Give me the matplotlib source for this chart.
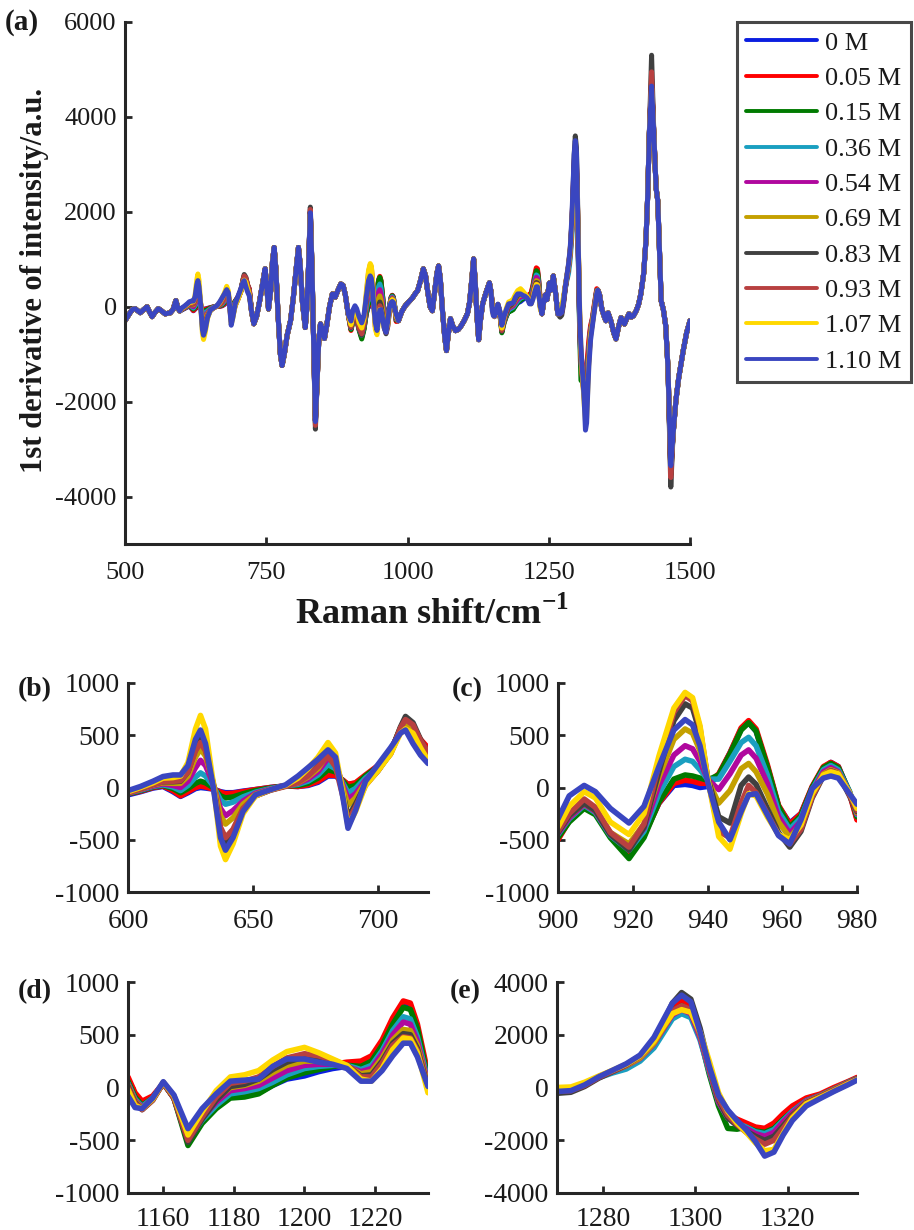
import numpy as np
import matplotlib.pyplot as plt

plt.rcParams['font.family'] = 'Liberation Serif'
plt.rcParams['mathtext.fontset'] = 'custom'
plt.rcParams['mathtext.rm'] = 'Liberation Serif'
plt.rcParams['mathtext.bf'] = 'Liberation Serif:bold'
plt.rcParams['axes.unicode_minus'] = False

concentrations = ['0 M', '0.05 M', '0.15 M', '0.36 M', '0.54 M',
                  '0.69 M', '0.83 M', '0.93 M', '1.07 M', '1.10 M']
colors = ['#0a1ee0', '#ff0000', '#007a00', '#1a9fc0', '#b0089e',
          '#c4a000', '#404040', '#b84040', '#ffd800', '#3a46c0']

# (a) common spectrum outside the zoomed windows, (shift, value)
a_base = [(500, -295), (505, -200), (509, -126), (513, -60), (518, -40), (522, -80),
          (527, -126), (533, -60), (539, 0), (543, -100), (548, -210), (553, -120),
          (559, -40), (565, -90), (571, -150), (576, -140), (580, -130), (585, -60),
          (590, 130), (594, -40), (597, -90),
          (724, -100), (728, -360), (733, -200), (738, 100), (743, 450), (748, 800),
          (751, 400), (754, -50), (758, 350), (761, 950), (764, 1250), (767, 800),
          (771, -200), (775, -1000), (778, -1240), (782, -1000), (787, -600), (793, -295),
          (798, 200), (803, 800), (807, 1250), (810, 900), (814, 100), (819, -440),
          (822, 0), (825, 900), (831, 800), (834, -800), (840, -1600), (843, -700),
          (846, -360), (850, -500), (853, -670), (857, -400), (862, 0), (867, 270),
          (872, 200), (877, 350), (882, 480), (886, 450), (890, 250), (895, -150),
          (984, -295), (990, -100), (996, 20), (1002, 100), (1009, 190), (1014, 280),
          (1018, 340), (1023, 550), (1028, 800), (1032, 650), (1036, 300), (1040, 0),
          (1044, -85), (1048, 300), (1052, 700), (1055, 860), (1058, 600), (1062, -100),
          (1066, -650), (1069, -925), (1072, -600), (1076, -250), (1080, -400), (1085, -505),
          (1090, -480), (1094, -420), (1100, -300), (1106, -150), (1110, 100), (1114, 600),
          (1117, 1010), (1120, 500), (1123, -200), (1126, -695), (1129, -300), (1133, 60),
          (1139, 300), (1145, 505), (1148, 300),
          (1238, -150), (1241, 100), (1244, 250), (1247, 150), (1251, 500), (1254, 350),
          (1258, 650), (1262, 300), (1266, -150),
          (1337, 350), (1340, 250), (1344, -50), (1348, -200), (1351, -295), (1355, -130),
          (1360, -300), (1365, -550), (1369, -680), (1374, -400), (1378, -230), (1384, -365),
          (1388, -250), (1392, -150), (1396, -220), (1400, -190), (1405, -80), (1409, 50),
          (1413, 270), (1418, 700), (1422, 1390), (1425, 2300), (1428, 3640), (1436, 3640),
          (1440, 2500), (1443, 2230), (1446, 1200), (1449, 125), (1453, -70), (1457, -400),
          (1461, -1280), (1470, -2700), (1475, -1980), (1480, -1500), (1488, -925),
          (1494, -550), (1500, -295)]

# strong bands in (a) that differ between concentrations
a_peak_x = [828, 837, 1432, 1466]
a_peak_y = [[2000, -2400, 4700, -3450],
            [2000, -2400, 4800, -3450],
            [2000, -2450, 4750, -3550],
            [1990, -2400, 4700, -3450],
            [1990, -2400, 4700, -3450],
            [2000, -2400, 4750, -3500],
            [2100, -2580, 5300, -3800],
            [2050, -2500, 4950, -3600],
            [1950, -2350, 4600, -3300],
            [1980, -2420, 4650, -3350]]

b_shift = [600, 605, 610, 614, 618, 621, 624, 627, 629, 631, 634, 637, 639, 642, 646, 651, 657,
           663, 668, 672, 676, 680, 683, 686, 688, 691, 695, 700, 705, 709, 711, 714, 717, 720]
b_deriv = [
    [-70, -40, -5, 10, -40, -85, -50, -10, 0, -5, -15, -40, -50, -50, -35, -20, 0,
     15, 10, 20, 50, 110, 110, 60, 30, 40, 110, 190, 330, 540, 620, 560, 440, 370],
    [-60, -35, 0, 15, -30, -80, -40, 0, 15, 5, -15, -45, -60, -55, -40, -20, 0,
     15, 10, 25, 60, 120, 115, 70, 30, 45, 120, 210, 350, 560, 630, 580, 460, 380],
    [-60, -30, 5, 20, -10, -50, -10, 40, 60, 45, 0, -80, -100, -90, -60, -30, -5,
     15, 20, 40, 90, 170, 150, 60, 0, 20, 110, 200, 340, 570, 650, 590, 440, 340],
    [-55, -25, 10, 25, 5, -30, 20, 100, 140, 110, 20, -120, -160, -140, -90, -45, -10,
     15, 30, 60, 120, 220, 180, 40, -50, -10, 90, 190, 330, 540, 610, 560, 420, 320],
    [-55, -20, 15, 35, 20, 0, 60, 190, 260, 210, 40, -200, -270, -220, -130, -55, -15,
     15, 40, 80, 150, 280, 230, 20, -110, -60, 70, 180, 320, 540, 610, 560, 420, 310],
    [-50, -15, 25, 45, 40, 40, 110, 290, 370, 300, 60, -270, -350, -290, -160, -65, -20,
     15, 45, 100, 180, 320, 250, -10, -170, -100, 50, 170, 320, 550, 620, 570, 430, 310],
    [-45, -10, 30, 55, 55, 60, 150, 370, 460, 370, 40, -420, -530, -420, -210, -80, -25,
     15, 55, 120, 210, 330, 240, -60, -280, -160, 30, 160, 330, 580, 680, 620, 460, 330],
    [-50, -10, 30, 55, 60, 65, 150, 350, 430, 350, 40, -380, -480, -400, -200, -80, -25,
     10, 50, 110, 200, 300, 200, -90, -320, -190, 20, 160, 330, 570, 650, 600, 450, 340],
    [-40, 0, 45, 90, 95, 110, 240, 560, 690, 560, 60, -560, -690, -540, -250, -80, -20,
     20, 90, 180, 290, 430, 330, -60, -370, -230, 20, 160, 320, 520, 560, 520, 380, 260],
    [-30, 10, 60, 105, 120, 120, 210, 460, 550, 420, 20, -480, -600, -480, -230, -70, -20,
     25, 110, 190, 270, 360, 290, -100, -390, -220, 60, 220, 380, 520, 550, 420, 310, 230]]

c_shift = [900, 903, 907, 910, 914, 919, 923, 927, 931, 934, 936, 938, 940, 943,
           946, 949, 951, 953, 956, 959, 962, 965, 968, 971, 973, 975, 978, 980]
c_deriv = [
    [-470, -300, -180, -230, -450, -640, -450, -150, 20, 30, 20, 0, 10, 120,
     330, 560, 620, 540, 200, -180, -340, -250, 0, 190, 240, 200, -50, -300],
    [-500, -320, -190, -240, -460, -650, -460, -150, 40, 70, 60, 40, 40, 130,
     330, 570, 640, 560, 220, -170, -350, -250, 10, 200, 240, 200, -60, -310],
    [-480, -330, -200, -260, -480, -680, -480, -140, 80, 120, 110, 90, 70, 120,
     320, 550, 620, 540, 200, -180, -380, -270, 0, 190, 230, 190, -40, -280],
    [-450, -300, -170, -240, -460, -600, -420, -60, 200, 270, 250, 170, 80, 80,
     250, 430, 480, 400, 120, -230, -400, -290, -20, 170, 210, 170, -40, -260],
    [-440, -290, -160, -230, -450, -580, -390, 20, 310, 400, 370, 250, 80, -20,
     130, 310, 360, 280, 40, -280, -440, -320, -40, 150, 190, 150, -50, -250],
    [-420, -270, -150, -220, -430, -540, -350, 100, 460, 560, 520, 350, 80, -150,
     -30, 180, 230, 150, -60, -330, -480, -350, -70, 130, 170, 140, -60, -240],
    [-430, -270, -150, -220, -450, -600, -380, 150, 640, 800, 760, 520, 100, -280,
     -340, 20, 100, 30, -200, -430, -570, -420, -100, 110, 160, 130, -80, -230],
    [-420, -250, -110, -190, -430, -570, -350, 220, 720, 880, 830, 570, 100, -420,
     -480, -150, 20, -50, -250, -450, -540, -400, -90, 120, 160, 130, -70, -220],
    [-380, -180, -40, -100, -330, -450, -250, 300, 760, 910, 860, 590, 100, -470,
     -590, -250, -60, -80, -280, -450, -500, -360, -60, 120, 150, 130, -50, -200],
    [-300, -80, 20, -40, -200, -340, -180, 200, 550, 650, 600, 400, 60, -330,
     -500, -230, -70, -60, -260, -460, -540, -310, -10, 90, 110, 90, -60, -160]]

d_shift = [1150, 1152, 1154, 1157, 1160, 1163, 1167, 1171, 1175, 1179, 1183, 1187, 1191,
           1195, 1200, 1204, 1208, 1212, 1216, 1219, 1222, 1225, 1228, 1230, 1232, 1235]
d_deriv = [
    [50, -100, -180, -100, 40, -80, -470, -300, -180, -90, -80, -50, 20,
     80, 110, 150, 180, 200, 220, 280, 420, 620, 780, 760, 560, 100],
    [100, -50, -130, -80, 40, -100, -490, -320, -190, -80, -60, -30, 40,
     100, 150, 190, 220, 240, 250, 300, 450, 660, 820, 800, 600, 130],
    [60, -90, -170, -100, 40, -100, -550, -340, -200, -100, -90, -60, 20,
     90, 140, 170, 200, 210, 200, 250, 400, 600, 760, 740, 560, 80],
    [40, -110, -180, -100, 40, -90, -500, -310, -170, -60, -40, -10, 50,
     120, 180, 200, 210, 210, 170, 210, 350, 540, 670, 650, 480, 60],
    [30, -120, -190, -110, 40, -90, -480, -290, -140, -30, -10, 20, 90,
     160, 210, 220, 220, 200, 150, 180, 320, 500, 620, 600, 440, 40],
    [20, -130, -200, -110, 45, -90, -470, -270, -110, 0, 20, 60, 140,
     210, 250, 250, 230, 200, 130, 150, 280, 450, 550, 540, 400, 20],
    [10, -140, -210, -120, 45, -100, -520, -300, -120, 10, 30, 80, 170,
     240, 290, 280, 250, 210, 110, 120, 250, 420, 510, 500, 370, 0],
    [0, -150, -210, -120, 45, -100, -500, -280, -90, 40, 60, 100, 200,
     280, 320, 300, 260, 210, 100, 100, 230, 400, 480, 470, 350, -10],
    [-20, -170, -200, -110, 50, -80, -450, -230, -30, 100, 120, 160, 260,
     340, 380, 330, 270, 210, 80, 60, 180, 360, 470, 460, 330, -50],
    [-80, -190, -200, -100, 55, -70, -390, -200, -60, 60, 70, 80, 200,
     270, 270, 240, 220, 180, 60, 60, 160, 300, 420, 420, 290, 10]]

e_shift = [1270, 1273, 1276, 1279, 1282, 1285, 1288, 1291, 1293, 1295, 1297, 1299, 1301, 1303,
           1305, 1307, 1309, 1311, 1313, 1315, 1317, 1319, 1321, 1324, 1327, 1330, 1333, 1335]
e_deriv = [
    [-100, -80, 120, 400, 620, 850, 1150, 1700, 2300, 2950, 3250, 3000, 2000, 700,
     -500, -1050, -1250, -1400, -1550, -1600, -1450, -1150, -850, -450, -280, -50, 200, 350],
    [-90, -70, 130, 410, 630, 860, 1170, 1750, 2400, 3050, 3350, 3100, 2050, 700,
     -480, -1000, -1200, -1350, -1500, -1550, -1350, -1000, -700, -400, -250, 0, 220, 380],
    [-120, -100, 110, 390, 610, 840, 1130, 1680, 2250, 2850, 3100, 2900, 1900, 500,
     -700, -1550, -1580, -1500, -1650, -1700, -1550, -1200, -900, -500, -300, -60, 190, 340],
    [-110, -90, 100, 370, 550, 700, 1000, 1500, 2050, 2600, 2800, 2650, 1800, 600,
     -550, -1150, -1350, -1500, -1680, -1750, -1600, -1250, -900, -500, -300, -60, 190, 340],
    [-110, -90, 110, 390, 600, 820, 1100, 1650, 2200, 2750, 2950, 2800, 1900, 650,
     -550, -1150, -1400, -1550, -1750, -1850, -1700, -1300, -950, -520, -310, -70, 180, 330],
    [-120, -100, 110, 390, 610, 830, 1120, 1680, 2250, 2800, 3050, 2900, 2000, 750,
     -450, -1100, -1400, -1650, -1900, -2050, -1900, -1450, -1050, -560, -330, -80, 170, 320],
    [-220, -180, 40, 350, 600, 850, 1200, 1800, 2450, 3200, 3600, 3350, 2250, 800,
     -450, -1150, -1450, -1650, -1850, -2000, -1850, -1450, -1050, -580, -350, -100, 160, 320],
    [-150, -120, 80, 380, 620, 860, 1180, 1750, 2350, 2900, 3100, 2950, 2050, 800,
     -400, -1050, -1400, -1700, -1950, -2150, -2000, -1550, -1100, -600, -360, -100, 160, 310],
    [0, 20, 200, 430, 650, 880, 1200, 1750, 2300, 2800, 2950, 2850, 2100, 1000,
     -200, -900, -1350, -1700, -2100, -2400, -2350, -1750, -1150, -620, -380, -130, 130, 290],
    [-150, -120, 100, 400, 650, 900, 1230, 1900, 2550, 3200, 3500, 3250, 2100, 800,
     -300, -850, -1250, -1600, -2050, -2600, -2450, -1800, -1250, -700, -420, -150, 100, 280]]

TXT = '#1a1a1a'
SPINE = '#262626'
W, H = 914, 1230


def box(left, top, right, bottom):
    # pixel box of the axes -> figure fraction
    return [left / W, 1 - bottom / H, (right - left) / W, (bottom - top) / H]


def style(ax, xlim, xticks, ylim, yticks, size, xpad):
    ax.set_xlim(xlim)
    ax.set_ylim(ylim)
    ax.set_xticks(xticks)
    ax.set_yticks(yticks)
    for s in ['top', 'right']:
        ax.spines[s].set_visible(False)
    for s in ['left', 'bottom']:
        ax.spines[s].set_linewidth(2.2)
        ax.spines[s].set_color(SPINE)
    ax.tick_params(direction='in', length=5, width=2, color=SPINE,
                   labelsize=size, labelcolor=TXT)
    ax.tick_params(axis='x', pad=xpad)
    ax.tick_params(axis='y', pad=6)


fig = plt.figure(figsize=(W / 100, H / 100), dpi=100)

# ---- (a) full spectrum
ax_a = fig.add_axes(box(125, 22, 690, 544))
for i in range(len(concentrations)):
    pts = list(a_base)
    pts += list(zip(a_peak_x, a_peak_y[i]))
    for xs, rows in [(b_shift, b_deriv), (c_shift, c_deriv),
                     (d_shift, d_deriv), (e_shift, e_deriv)]:
        pts += list(zip(xs, rows[i]))
    pts.sort()
    xa = np.array([p[0] for p in pts])
    ya = np.array([p[1] for p in pts])
    ax_a.plot(xa, ya, color=colors[i], lw=3.6, label=concentrations[i],
              solid_joinstyle='round', solid_capstyle='round')
style(ax_a, (500, 1500), [500, 750, 1000, 1250, 1500], (-5000, 6000),
      [-4000, -2000, 0, 2000, 4000, 6000], 19, 13)

leg = ax_a.legend(loc='upper left', bbox_to_anchor=(737 / W, 1 - 22 / H),
                  bbox_transform=fig.transFigure, fontsize=19, frameon=True,
                  fancybox=False, edgecolor='#1a1a1a', handlelength=2.7,
                  handletextpad=0.3, labelspacing=0.45, borderpad=0.35,
                  borderaxespad=0)
leg.get_frame().set_linewidth(2.2)
for ln in leg.get_lines():
    ln.set_linewidth(2.8)
for t in leg.get_texts():
    t.set_color(TXT)

fig.text(35 / W, 1 - 280 / H, '1st derivative of intensity/a.u.', rotation=90,
         ha='center', va='center', fontsize=22, fontweight='bold', color=TXT)
fig.text(432 / W, 1 - 614 / H, r'Raman shift/cm$^{\mathbf{-1}}$', ha='center',
         va='center', fontsize=26, fontweight='bold', color=TXT)

# ---- zoomed panels
panels = [
    ('(b)', box(128, 683, 428, 892), b_shift, b_deriv, (600, 720), [600, 650, 700],
     (-1000, 1000), [-1000, -500, 0, 500, 1000], (18, 690), 12),
    ('(c)', box(558, 683, 857, 892), c_shift, c_deriv, (900, 980), [900, 920, 940, 960, 980],
     (-1000, 1000), [-1000, -500, 0, 500, 1000], (452, 690), 12),
    ('(d)', box(128, 982, 428, 1193), d_shift, d_deriv, (1150, 1235), [1160, 1180, 1200, 1220],
     (-1000, 1000), [-1000, -500, 0, 500, 1000], (18, 992), 10),
    ('(e)', box(557, 982, 857, 1193), e_shift, e_deriv, (1270, 1335), [1280, 1300, 1320],
     (-4000, 4000), [-4000, -2000, 0, 2000, 4000], (450, 992), 10),
]
for tag, pos, xs, rows, xlim, xt, ylim, yt, tpos, xpad in panels:
    ax = fig.add_axes(pos)
    for i in range(len(concentrations)):
        ax.plot(xs, rows[i], color=colors[i], lw=4.0,
                solid_joinstyle='round', solid_capstyle='round')
    style(ax, xlim, xt, ylim, yt, 20, xpad)
    fig.text(tpos[0] / W, 1 - tpos[1] / H, tag, ha='left', va='center',
             fontsize=20, fontweight='bold', color=TXT)

fig.text(5 / W, 1 - 22 / H, '(a)', ha='left', va='center',
         fontsize=21, fontweight='bold', color=TXT)

fig.savefig('out.png', dpi=100)
